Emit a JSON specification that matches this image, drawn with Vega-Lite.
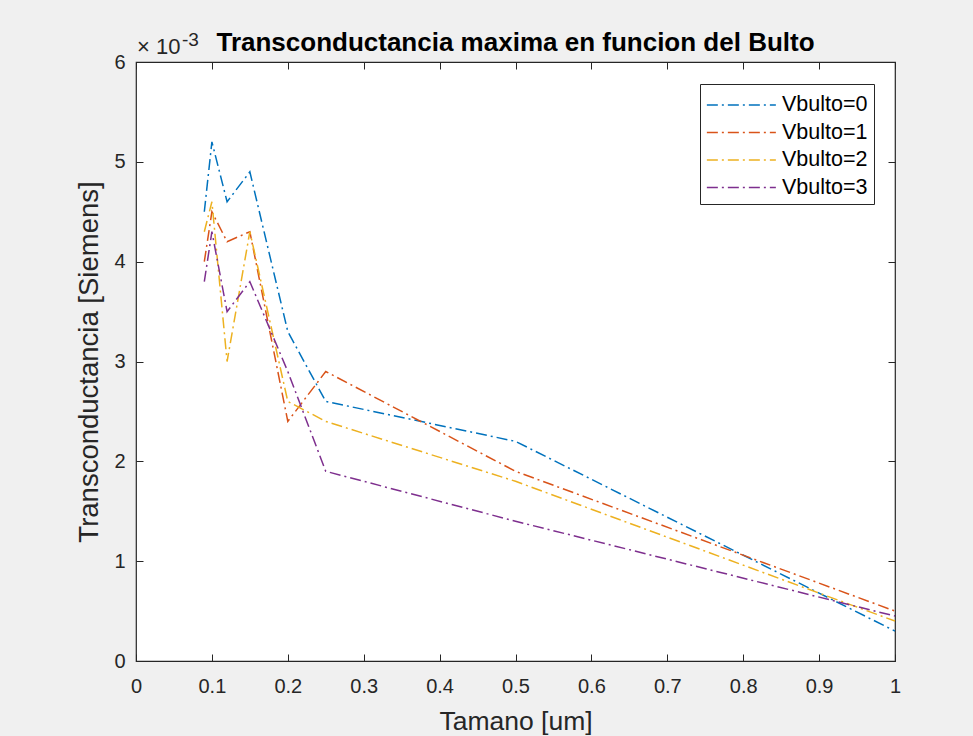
{
  "$schema": "https://vega.github.io/schema/vega-lite/v6.json",
  "width": 759,
  "height": 599,
  "autosize": {"type": "none"},
  "padding": {"left": 136, "top": 62, "right": 78, "bottom": 75},
  "background": "#f0f0f0",
  "view": {"fill": "white", "stroke": "#262626", "strokeWidth": 1.2},
  "title": {
    "text": "Transconductancia maxima en funcion del Bulto",
    "font": "Liberation Sans",
    "fontSize": 26,
    "fontWeight": "bold",
    "color": "#000000",
    "anchor": "middle",
    "offset": -25
  },
  "config": {
    "font": "Liberation Sans",
    "axis": {
      "labelFont": "Liberation Sans",
      "titleFont": "Liberation Sans",
      "labelColor": "#262626",
      "titleColor": "#262626",
      "tickColor": "#262626",
      "domainColor": "#262626",
      "grid": false,
      "titleFontWeight": "normal"
    }
  },
  "datasets": {
    "curves": [
      {"serie": "Vbulto=0", "tamano": 0.09, "gm": 0.0045},
      {"serie": "Vbulto=0", "tamano": 0.10, "gm": 0.0052},
      {"serie": "Vbulto=0", "tamano": 0.12, "gm": 0.0046},
      {"serie": "Vbulto=0", "tamano": 0.15, "gm": 0.0049},
      {"serie": "Vbulto=0", "tamano": 0.20, "gm": 0.0033},
      {"serie": "Vbulto=0", "tamano": 0.25, "gm": 0.0026},
      {"serie": "Vbulto=0", "tamano": 0.50, "gm": 0.0022},
      {"serie": "Vbulto=0", "tamano": 1.00, "gm": 0.0003},
      {"serie": "Vbulto=1", "tamano": 0.09, "gm": 0.0040},
      {"serie": "Vbulto=1", "tamano": 0.10, "gm": 0.0045},
      {"serie": "Vbulto=1", "tamano": 0.12, "gm": 0.0042},
      {"serie": "Vbulto=1", "tamano": 0.15, "gm": 0.0043},
      {"serie": "Vbulto=1", "tamano": 0.20, "gm": 0.0024},
      {"serie": "Vbulto=1", "tamano": 0.25, "gm": 0.0029},
      {"serie": "Vbulto=1", "tamano": 0.50, "gm": 0.0019},
      {"serie": "Vbulto=1", "tamano": 1.00, "gm": 0.0005},
      {"serie": "Vbulto=2", "tamano": 0.09, "gm": 0.0043},
      {"serie": "Vbulto=2", "tamano": 0.10, "gm": 0.0046},
      {"serie": "Vbulto=2", "tamano": 0.12, "gm": 0.0030},
      {"serie": "Vbulto=2", "tamano": 0.15, "gm": 0.0043},
      {"serie": "Vbulto=2", "tamano": 0.20, "gm": 0.0026},
      {"serie": "Vbulto=2", "tamano": 0.25, "gm": 0.0024},
      {"serie": "Vbulto=2", "tamano": 0.50, "gm": 0.0018},
      {"serie": "Vbulto=2", "tamano": 1.00, "gm": 0.0004},
      {"serie": "Vbulto=3", "tamano": 0.09, "gm": 0.0038},
      {"serie": "Vbulto=3", "tamano": 0.10, "gm": 0.0043},
      {"serie": "Vbulto=3", "tamano": 0.12, "gm": 0.0035},
      {"serie": "Vbulto=3", "tamano": 0.15, "gm": 0.0038},
      {"serie": "Vbulto=3", "tamano": 0.20, "gm": 0.0029},
      {"serie": "Vbulto=3", "tamano": 0.25, "gm": 0.0019},
      {"serie": "Vbulto=3", "tamano": 0.50, "gm": 0.0014},
      {"serie": "Vbulto=3", "tamano": 1.00, "gm": 0.00045}
    ],
    "exponent": [
      {"part": "base", "tamano": 0, "gm": 0.006, "t": "× 10"},
      {"part": "exp", "tamano": 0, "gm": 0.006, "t": "-3"}
    ]
  },
  "layer": [
    {
      "data": {"name": "curves"},
      "mark": {"type": "line", "strokeWidth": 1.5, "strokeDash": [11, 4, 2, 4]},
      "encoding": {
        "x": {
          "field": "tamano", "type": "quantitative",
          "scale": {"domain": [0, 1], "nice": false, "zero": false},
          "axis": {
            "orient": "bottom",
            "values": [0, 0.1, 0.2, 0.3, 0.4, 0.5, 0.6, 0.7, 0.8, 0.9, 1],
            "format": "~g",
            "title": "Tamano [um]",
            "titleFontSize": 26.5,
            "labelFontSize": 20,
            "tickSize": -7,
            "labelPadding": 22,
            "titlePadding": 12,
            "domain": false,
            "labelFlush": false
          }
        },
        "y": {
          "field": "gm", "type": "quantitative",
          "scale": {"domain": [0, 0.006], "nice": false, "zero": true},
          "axis": {
            "orient": "left",
            "values": [0, 0.001, 0.002, 0.003, 0.004, 0.005, 0.006],
            "labelExpr": "format(datum.value * 1000, '~g')",
            "title": "Transconductancia [Siemens]",
            "titleFontSize": 27.5,
            "labelFontSize": 20,
            "tickSize": -7,
            "labelPadding": 18,
            "titlePadding": 10,
            "domain": false,
            "labelFlush": false
          }
        },
        "color": {
          "field": "serie", "type": "nominal",
          "scale": {
            "domain": ["Vbulto=0", "Vbulto=1", "Vbulto=2", "Vbulto=3"],
            "range": ["#0072BD", "#D95319", "#EDB120", "#7E2F8E"]
          },
          "legend": {
            "title": null,
            "orient": "none",
            "legendX": 564,
            "legendY": 22,
            "fillColor": "white",
            "strokeColor": "#262626",
            "padding": 6,
            "symbolType": "M-1,0H3.88",
            "symbolSize": 800,
            "symbolStrokeWidth": 1.5,
            "symbolDash": [11, 4, 2, 4],
            "labelOffset": 46,
            "labelFontSize": 21.5,
            "labelFont": "Liberation Sans",
            "labelColor": "#000000",
            "rowPadding": 1.5
          }
        }
      }
    },
    {
      "data": {"name": "exponent"},
      "transform": [{"filter": "datum.part === 'base'"}],
      "mark": {"type": "text", "align": "left", "baseline": "alphabetic", "dy": -8, "dx": 1, "fontSize": 22, "color": "#262626", "font": "Liberation Sans"},
      "encoding": {
        "x": {"field": "tamano", "type": "quantitative", "axis": {"orient": "top", "labels": false, "tickSize": -7, "domain": false, "title": null, "values": [0, 0.1, 0.2, 0.3, 0.4, 0.5, 0.6, 0.7, 0.8, 0.9, 1]}},
        "y": {"field": "gm", "type": "quantitative", "axis": {"orient": "right", "labels": false, "tickSize": -7, "domain": false, "title": null, "values": [0, 0.001, 0.002, 0.003, 0.004, 0.005, 0.006]}},
        "text": {"field": "t"}
      }
    },
    {
      "data": {"name": "exponent"},
      "transform": [{"filter": "datum.part === 'exp'"}],
      "mark": {"type": "text", "align": "left", "baseline": "alphabetic", "dy": -16, "dx": 46, "fontSize": 19, "color": "#262626", "font": "Liberation Sans"},
      "encoding": {
        "x": {"field": "tamano", "type": "quantitative", "axis": null},
        "y": {"field": "gm", "type": "quantitative", "axis": null},
        "text": {"field": "t"}
      }
    }
  ],
  "resolve": {"axis": {"x": "independent", "y": "independent"}}
}
